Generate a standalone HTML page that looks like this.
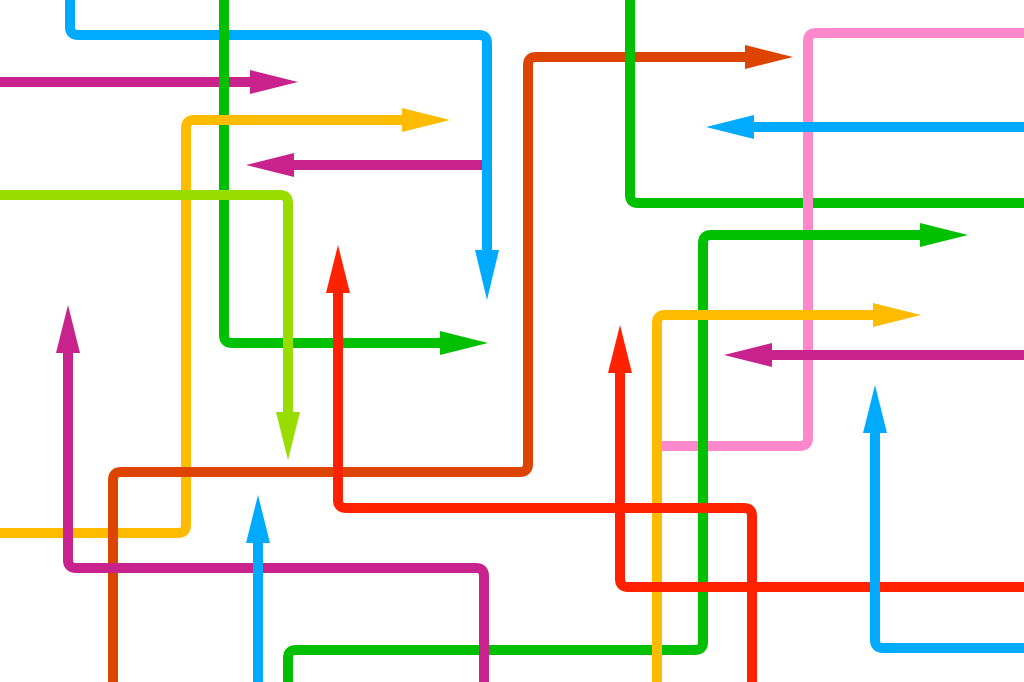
<!DOCTYPE html>
<html><head><meta charset="utf-8"><style>html,body{margin:0;padding:0;background:#fff}svg{display:block}</style></head>
<body>
<svg width="1024" height="682" viewBox="0 0 1024 682" xmlns="http://www.w3.org/2000/svg">
<g fill="none" stroke-width="10" stroke-linejoin="round">
<path d="M70 0 V27 Q70 35 78 35 H479 Q487 35 487 43 V255" stroke="#00aaff"/>
<path d="M0 82 H255" stroke="#c8228c"/>
<path d="M224 0 V335 Q224 343 232 343 H445" stroke="#00c000"/>
<path d="M0 533 H178 Q186 533 186 525 V128 Q186 120 194 120 H405" stroke="#ffbb00"/>
<path d="M482 165 H290" stroke="#c8228c"/>
<path d="M0 195 H280 Q288 195 288 203 V415" stroke="#99dd00"/>
<path d="M113 682 V480 Q113 472 121 472 H520 Q528 472 528 464 V65 Q528 57 536 57 H748" stroke="#dd4400"/>
<path d="M630 0 V195 Q630 203 638 203 H1024" stroke="#00c000"/>
<path d="M1024 33 H816 Q808 33 808 41 V438 Q808 446 800 446 H655" stroke="#ff88cc"/>
<path d="M1024 127 H750" stroke="#00aaff"/>
<path d="M288 682 V658 Q288 650 296 650 H695 Q703 650 703 642 V243 Q703 235 711 235 H923" stroke="#00c000"/>
<path d="M657 682 V323 Q657 315 665 315 H876" stroke="#ffbb00"/>
<path d="M1024 355 H768" stroke="#c8228c"/>
<path d="M338 290 V500 Q338 508 346 508 H744 Q752 508 752 516 V682" stroke="#ff2200"/>
<path d="M620 370 V579 Q620 587 628 587 H1024" stroke="#ff2200"/>
<path d="M875 430 V640 Q875 648 883 648 H1024" stroke="#00aaff"/>
<path d="M68 350 V560 Q68 568 76 568 H476 Q484 568 484 576 V682" stroke="#c8228c"/>
<path d="M258 540 V682" stroke="#00aaff"/>
</g>
<g>
<polygon points="487,300 475,250 499,250" fill="#00aaff"/>
<polygon points="298,82 250,70 250,94" fill="#c8228c"/>
<polygon points="488,343 440,331 440,355" fill="#00c000"/>
<polygon points="450,120 402,108 402,132" fill="#ffbb00"/>
<polygon points="246,165 294,153 294,177" fill="#c8228c"/>
<polygon points="288,460 276,412 300,412" fill="#99dd00"/>
<polygon points="793,57 745,45 745,69" fill="#dd4400"/>
<polygon points="706,127 754,115 754,139" fill="#00aaff"/>
<polygon points="968,235 920,223 920,247" fill="#00c000"/>
<polygon points="921,315 873,303 873,327" fill="#ffbb00"/>
<polygon points="724,355 772,343 772,367" fill="#c8228c"/>
<polygon points="338,245 326,293 350,293" fill="#ff2200"/>
<polygon points="620,325 608,373 632,373" fill="#ff2200"/>
<polygon points="875,385 863,433 887,433" fill="#00aaff"/>
<polygon points="68,305 56,353 80,353" fill="#c8228c"/>
<polygon points="258,495 246,543 270,543" fill="#00aaff"/>
</g>
</svg>
</body></html>
